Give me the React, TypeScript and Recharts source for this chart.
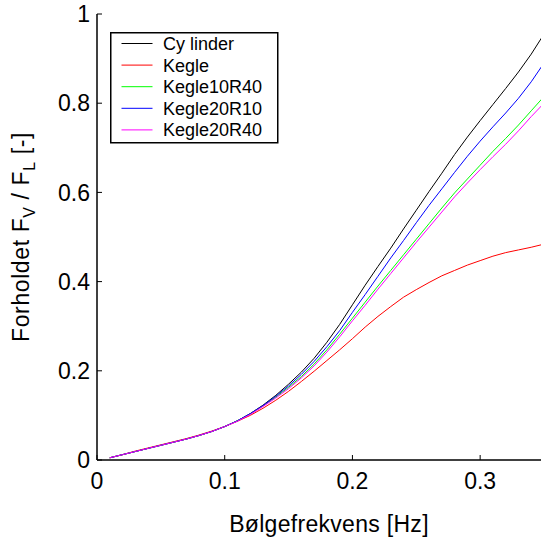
import React from 'react';
import { LineChart, Line, XAxis, YAxis, Legend } from 'recharts';

const FONT = '"Liberation Sans", Arial, Helvetica, sans-serif';

// frequency [Hz]
const freq = [
  0.01, 0.02, 0.03, 0.04, 0.05, 0.06, 0.07, 0.08, 0.09, 0.1, 0.11, 0.12,
  0.13, 0.14, 0.15, 0.16, 0.17, 0.18, 0.19, 0.2, 0.21, 0.22, 0.23, 0.24,
  0.25, 0.26, 0.27, 0.28, 0.29, 0.3, 0.31, 0.32, 0.33, 0.34, 0.35,
];

const cylinder = [
  0.005, 0.012, 0.019, 0.026, 0.033, 0.04, 0.047, 0.055, 0.064, 0.075, 0.088, 0.104,
  0.123, 0.145, 0.17, 0.197, 0.228, 0.264, 0.304, 0.348, 0.392, 0.434, 0.475, 0.518,
  0.56, 0.602, 0.643, 0.685, 0.724, 0.761, 0.797, 0.833, 0.87, 0.91, 0.955,
];
const kegle = [
  0.005, 0.012, 0.02, 0.027, 0.034, 0.041, 0.048, 0.056, 0.065, 0.075, 0.087, 0.1,
  0.116, 0.134, 0.154, 0.176, 0.199, 0.223, 0.247, 0.272, 0.298, 0.322, 0.344, 0.365,
  0.382, 0.398, 0.413, 0.425, 0.437, 0.447, 0.457, 0.465, 0.471, 0.477, 0.484,
];
const kegle10R40 = [
  0.005, 0.012, 0.019, 0.026, 0.033, 0.04, 0.047, 0.055, 0.064, 0.075, 0.088, 0.103,
  0.121, 0.141, 0.163, 0.187, 0.215, 0.247, 0.282, 0.318, 0.354, 0.39, 0.425, 0.46,
  0.495, 0.53, 0.565, 0.599, 0.63, 0.661, 0.692, 0.721, 0.751, 0.783, 0.815,
];
const kegle20R10 = [
  0.005, 0.012, 0.019, 0.026, 0.033, 0.04, 0.047, 0.055, 0.064, 0.075, 0.088, 0.104,
  0.122, 0.143, 0.166, 0.192, 0.221, 0.254, 0.29, 0.331, 0.371, 0.412, 0.453, 0.492,
  0.532, 0.571, 0.608, 0.645, 0.681, 0.715, 0.747, 0.778, 0.811, 0.848, 0.89,
];
const kegle20R40 = [
  0.005, 0.012, 0.019, 0.026, 0.033, 0.04, 0.047, 0.055, 0.064, 0.075, 0.087, 0.102,
  0.12, 0.139, 0.16, 0.184, 0.211, 0.242, 0.276, 0.312, 0.347, 0.383, 0.418, 0.453,
  0.488, 0.522, 0.556, 0.59, 0.621, 0.651, 0.68, 0.708, 0.738, 0.77, 0.8,
];

const xTicks = [0, 0.1, 0.2, 0.3];
const yTicks = [0, 0.2, 0.4, 0.6, 0.8, 1];

const SERIES = [
  { key: 'cylinder', name: 'Cy linder', color: '#000000' },
  { key: 'kegle', name: 'Kegle', color: '#ff0000' },
  { key: 'kegle10R40', name: 'Kegle10R40', color: '#00ff00' },
  { key: 'kegle20R10', name: 'Kegle20R10', color: '#0000ff' },
  { key: 'kegle20R40', name: 'Kegle20R40', color: '#ff00ff' },
];

const data = freq.map((f, i) => ({
  f,
  cylinder: cylinder[i],
  kegle: kegle[i],
  kegle10R40: kegle10R40[i],
  kegle20R10: kegle20R10[i],
  kegle20R40: kegle20R40[i],
}));

const tickStyle = { fontSize: 23, fill: '#000', fontFamily: FONT };

// legend box in the upper left corner, MATLAB style
const LegendBox = ({ payload }: { payload?: { value: string; color: string }[] }) => {
  const rowH = 21.6;
  return (
    <svg width={170} height={112} style={{ display: 'block' }}>
      <rect x={0.75} y={0.75} width={167} height={110} fill="#fff" stroke="#000" strokeWidth={1.5} />
      {(payload || []).map((p, i) => {
        const cy = 11.5 + i * rowH;
        return (
          <g key={p.value}>
            <line x1={11.5} x2={42.5} y1={cy} y2={cy} stroke={p.color} strokeWidth={1} />
            <text x={53} y={cy} dy="0.36em" fontSize={18} fontFamily={FONT} fill="#000">
              {p.value}
            </text>
          </g>
        );
      })}
    </svg>
  );
};

const YTitle = () => (
  <text
    transform="translate(29, 237) rotate(-90)"
    textAnchor="middle"
    fontSize={23}
    fontFamily={FONT}
    letterSpacing={0.6}
    fill="#000"
  >
    Forholdet F
    <tspan fontSize={16} dy={6}>V</tspan>
    <tspan dy={-6}> / F</tspan>
    <tspan fontSize={16} dy={6}>L</tspan>
    <tspan dy={-6}>{'  [-]'}</tspan>
  </text>
);

const XTitle = () => (
  <text x={329} y={532} textAnchor="middle" fontSize={23} fontFamily={FONT} letterSpacing={0.3} fill="#000">
    Bølgefrekvens [Hz]
  </text>
);

export default function App() {
  return (
    <div
      style={{
        position: 'fixed',
        left: 0,
        top: 0,
        width: 541,
        height: 542,
        overflow: 'hidden',
        background: '#fff',
      }}
    >
      <LineChart
        width={560}
        height={542}
        data={data}
        margin={{ top: 14, right: 16, left: 0, bottom: 0 }}
      >
        <XAxis
          xAxisId="bottom"
          dataKey="f"
          type="number"
          domain={[0, 0.35]}
          ticks={xTicks}
          height={82}
          tickSize={-5}
          tickMargin={18}
          tick={tickStyle}
          axisLine={{ stroke: '#000', strokeWidth: 1.5 }}
          tickLine={{ stroke: '#000' }}
          label={{ content: () => <XTitle /> }}
        />
        <XAxis
          xAxisId="top"
          orientation="top"
          dataKey="f"
          type="number"
          domain={[0, 0.35]}
          ticks={xTicks}
          height={0}
          tickSize={-5}
          tick={false}
          axisLine={{ stroke: '#000', strokeWidth: 1 }}
          tickLine={{ stroke: '#000' }}
        />
        <YAxis
          yAxisId="left"
          type="number"
          domain={[0, 1]}
          ticks={yTicks}
          width={97}
          tickSize={-5}
          tickMargin={12}
          tick={tickStyle}
          axisLine={{ stroke: '#000', strokeWidth: 1.5 }}
          tickLine={{ stroke: '#000' }}
          label={{ content: () => <YTitle /> }}
        />
        <YAxis
          yAxisId="right"
          orientation="right"
          type="number"
          domain={[0, 1]}
          ticks={yTicks}
          width={0}
          tickSize={-5}
          tick={false}
          axisLine={{ stroke: '#000', strokeWidth: 1 }}
          tickLine={{ stroke: '#000' }}
        />
        <Legend
          layout="vertical"
          align="center"
          verticalAlign="middle"
          wrapperStyle={{ position: 'absolute', left: 110, top: 32, width: 170, height: 112 }}
          content={(props: any) => <LegendBox payload={props.payload} />}
        />
        {SERIES.map((s) => (
          <Line
            key={s.key}
            xAxisId="bottom"
            yAxisId="left"
            type="linear"
            dataKey={s.key}
            name={s.name}
            stroke={s.color}
            strokeWidth={1}
            dot={false}
            activeDot={false}
            isAnimationActive={false}
          />
        ))}
      </LineChart>
    </div>
  );
}
